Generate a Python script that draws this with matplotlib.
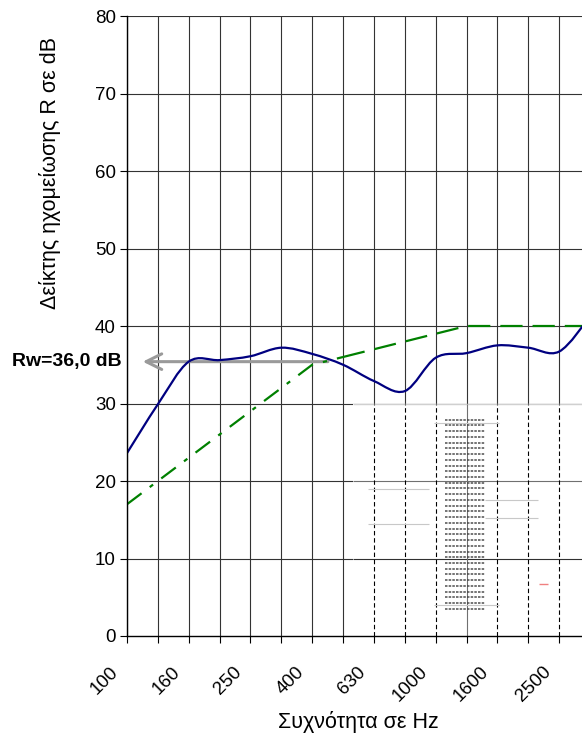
import numpy as np
import matplotlib
matplotlib.use("Agg")
import matplotlib.pyplot as plt
from matplotlib.path import Path
from matplotlib.patches import PathPatch, Rectangle
from matplotlib.transforms import ScaledTranslation

plt.rcParams['font.family'] = ['Liberation Sans', 'DejaVu Sans']

# third-octave bands and values
freqs = ["100", "125", "160", "200", "250", "315", "400", "500",
         "630", "800", "1000", "1250", "1600", "2000", "2500", "3150"]
measured_R = [23.6, 29.9, 35.4, 35.6, 36.1, 37.2, 36.4, 35.0,
              32.9, 31.6, 35.9, 36.5, 37.5, 37.2, 36.7, 41.2]
reference_R = [17, 20, 23, 26, 29, 32, 35, 36, 37, 38, 39, 40, 40, 40, 40, 40]
rw_level = 35.4
rw_label = "Rw=36,0 dB"
y_ticks = [0, 10, 20, 30, 40, 50, 60, 70, 80]

x = np.arange(len(freqs))


def smooth_path(xs, ys):
    # excel-like smoothed line: bezier segments with catmull-rom handles
    xs = np.asarray(xs, float)
    ys = np.asarray(ys, float)
    px = np.concatenate([[xs[0]], xs, [xs[-1]]])
    py = np.concatenate([[ys[0]], ys, [ys[-1]]])
    verts = [(xs[0], ys[0])]
    codes = [Path.MOVETO]
    for i in range(len(xs) - 1):
        c1 = (xs[i] + (px[i + 2] - px[i]) / 6, ys[i] + (py[i + 2] - py[i]) / 6)
        c2 = (xs[i + 1] - (px[i + 3] - px[i + 1]) / 6,
              ys[i + 1] - (py[i + 3] - py[i + 1]) / 6)
        verts += [c1, c2, (xs[i + 1], ys[i + 1])]
        codes += [Path.CURVE4] * 3
    return Path(verts, codes)


fig = plt.figure(figsize=(5.82, 7.36), dpi=100)
# axes runs a bit past the right edge, like the cropped original
ax = fig.add_axes([127 / 582, 100 / 736, 463 / 582, 620 / 736])
ax.set_xlim(0, len(freqs) - 1)
ax.set_ylim(0, 80)

grid_c = '#333333'
for xi in x:
    ax.axvline(xi, color=grid_c, lw=0.8, zorder=1)
for yv in y_ticks[1:]:
    ax.axhline(yv, color=grid_c, lw=0.8, zorder=1)

# the whited-out block in the lower right corner
box_left = 7.32
ax.add_patch(Rectangle((box_left, 0), len(freqs), 30, facecolor='white',
                       edgecolor='none', zorder=2))
ax.hlines(30, box_left, len(freqs), color='#d0d0d0', lw=1.0, zorder=3)
ax.hlines(20, box_left, len(freqs), color='#707070', lw=0.8, zorder=3)
ax.hlines(10, box_left, len(freqs), color='#303030', lw=0.8, zorder=3)
for xi in [8, 9, 10, 12, 13, 14]:
    ax.vlines(xi, 0, 30, color='black', lw=0.8, linestyles=(0, (4, 2.5)), zorder=3)
ax.vlines(11, 0, 30, color='#707070', lw=0.8, zorder=3)
# scanned noise stripe
for yv in np.arange(3.5, 28.6, 0.74):
    ax.hlines(yv, 10.3, 11.6, color='#404040', lw=1.2,
              linestyles=(0, (1.5, 0.7)), zorder=3, alpha=0.85)
for yv, x0, x1 in [(27.5, 9.95, 12.05), (4.0, 9.95, 12.05), (19.0, 7.8, 9.8),
                   (14.5, 7.8, 9.8), (17.5, 11.6, 13.3), (15.2, 11.6, 13.3)]:
    ax.hlines(yv, x0, x1, color='#c8c8c8', lw=0.8, zorder=3)
ax.hlines(6.7, 13.35, 13.65, color='#f08080', lw=1.0, zorder=3)

# reference curve
ax.plot(x[:8], reference_R[:8], color='#008000', lw=1.6,
        dashes=(8.2, 4.6, 1.9, 4.6), zorder=5)
ax.plot(x[7:], reference_R[7:], color='#008000', lw=1.6,
        dashes=(10, 4.5), zorder=5)

# measured curve
ax.add_patch(PathPatch(smooth_path(x, measured_R), facecolor='none',
                       edgecolor='#000080', lw=1.6, zorder=6, clip_on=True))

# Rw arrow
ax.annotate('', xy=(0.42, rw_level), xytext=(6.6, rw_level),
            arrowprops=dict(arrowstyle='->', color='#9a9a9a', lw=2.2,
                            mutation_scale=28), zorder=4)
ax.text(-0.16, rw_level, rw_label, ha='right', va='center', fontsize=14,
        fontweight='bold', clip_on=False)

ax.set_yticks(y_ticks)
ax.set_xticks(x[::2])
ax.set_xticks(x, minor=True)
ax.set_xticklabels(freqs[::2], rotation=45, ha='right', va='center',
                   rotation_mode='anchor', fontsize=13.5)
ax.tick_params(axis='y', labelsize=13.5, length=5, width=0.8, pad=3)
ax.tick_params(axis='x', which='both', length=5, width=0.8, pad=19)
shift = ScaledTranslation(-0.11, 0, fig.dpi_scale_trans)
for lab in ax.get_xticklabels():
    lab.set_transform(lab.get_transform() + shift)

for side in ['top', 'right']:
    ax.spines[side].set_visible(False)
ax.spines['left'].set_linewidth(1.0)
ax.spines['bottom'].set_linewidth(1.0)
ax.spines['left'].set_zorder(7)
ax.spines['bottom'].set_zorder(7)

fig.text(50 / 582, 1 - 173 / 736, "Δείκτης ηχομείωσης R σε dB", rotation=90,
         ha='center', va='center', fontsize=15.5)
fig.text(358 / 582, 1 - 722 / 736, "Συχνότητα σε Hz", ha='center',
         va='center', fontsize=15.5)

fig.savefig("out.png", dpi=100)
